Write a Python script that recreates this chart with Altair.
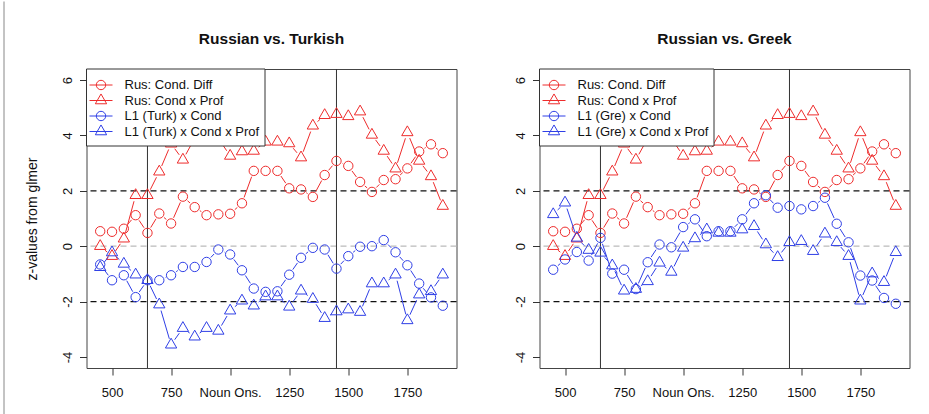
import math
import altair as alt
import pandas as pd

# ---------------- data ----------------
times = [450, 500, 550, 600, 650, 700, 750, 800, 850, 900, 950, 1000, 1050, 1100, 1150,
         1200, 1250, 1300, 1350, 1400, 1450, 1500, 1550, 1600, 1650, 1700, 1750, 1800, 1850, 1900]

rus_cond_diff = [0.54, 0.52, 0.63, 1.12, 0.48, 1.18, 0.82, 1.79, 1.41, 1.12,
                 1.15, 1.17, 1.55, 2.72, 2.72, 2.72, 2.09, 2.05, 1.78, 2.57,
                 3.08, 2.90, 2.32, 1.96, 2.39, 2.42, 2.81, 3.42, 3.68, 3.36]
rus_cond_prof = [0.00, -0.36, 0.27, 1.84, 1.84, 2.69, 3.70, 3.12, 3.90, 4.00,
                 3.90, 3.26, 3.42, 3.44, 3.77, 3.77, 3.71, 3.20, 4.35, 4.73,
                 4.77, 4.69, 4.86, 4.02, 3.44, 2.80, 4.11, 3.08, 2.52, 1.45]
turk_cond = [-0.66, -1.23, -1.05, -1.84, -1.23, -1.23, -1.05, -0.75, -0.75, -0.57,
             -0.12, -0.30, -0.87, -1.53, -1.65, -1.63, -1.03, -0.42, -0.06, -0.12,
             -0.81, -0.36, -0.02, 0.00, 0.22, -0.22, -0.69, -1.35, -1.85, -2.15]
turk_cond_prof = [-0.76, -0.23, -0.64, -1.03, -1.23, -2.11, -3.56, -2.96, -3.27, -2.96,
                  -3.06, -2.33, -1.97, -2.15, -1.82, -1.82, -2.19, -1.61, -1.91, -2.60,
                  -2.36, -2.29, -2.38, -1.35, -1.35, -1.03, -2.68, -1.75, -1.63, -1.03]
gre_cond = [-0.85, -0.48, -0.21, -0.52, 0.30, -0.99, -0.85, -1.55, -0.58, 0.06,
            -0.04, 0.69, 0.97, 0.36, 0.54, 0.54, 0.97, 1.55, 1.84, 1.39,
            1.45, 1.33, 1.45, 1.75, 0.81, 0.14, -1.06, -1.24, -1.87, -2.08]
gre_cond_prof = [1.15, 1.57, 0.30, -0.14, -0.24, -0.70, -1.61, -1.55, -1.27, -0.60,
                 -0.93, -0.06, 0.28, 0.60, 0.48, 0.48, 0.60, 0.72, 0.06, -0.40,
                 0.14, 0.18, -0.18, 0.45, 0.14, -0.36, -1.97, -0.99, -1.30, -0.22]

panel_titles = ["Russian vs. Turkish", "Russian vs. Greek"]
legend_turk = ["Rus: Cond. Diff", "Rus: Cond x Prof", "L1 (Turk) x Cond", "L1 (Turk) x Cond x Prof"]
legend_gre = ["Rus: Cond. Diff", "Rus: Cond x Prof", "L1 (Gre) x Cond", "L1 (Gre) x Cond x Prof"]
x_tick_values = [500, 750, 1000, 1250, 1500, 1750]
x_tick_labels = ["500", "750", "Noun Ons.", "1250", "1500", "1750"]
y_tick_values = [-4, -2, 0, 2, 4, 6]
y_tick_labels = ["-4", "-2", "0", "2", "4", "6"]
sig_levels = [-2, 2]
zero_level = [0]
region_marks = [650, 1450]
y_title = "z-values from glmer"

# ---------------- styling ----------------
RED = "#EE2C2C"
BLUE = "#2F3FE6"
FONT = "Liberation Sans"
X_DOMAIN = [392, 1958]
Y_DOMAIN = [-4.4, 6.4]
W = 370
H = 299
GAP = 6.2
CIRCLE = "circle"
TRIANGLE = "M0,-1.1547L1,0.5774L-1,0.5774Z"
C_SIZE = 88
T_SIZE = 128


def label_expr(values, labels):
    expr = "''"
    for v, l in reversed(list(zip(values, labels))):
        expr = f"datum.value == {v} ? '{l}' : ({expr})"
    return expr


def gapped_segments(xs, ys):
    """Segments between consecutive points, shortened near each point (R type='b')."""
    sx = W / (X_DOMAIN[1] - X_DOMAIN[0])
    sy = H / (Y_DOMAIN[1] - Y_DOMAIN[0])
    rows = []
    for i in range(len(xs) - 1):
        dx = (xs[i + 1] - xs[i]) * sx
        dy = (ys[i + 1] - ys[i]) * sy
        L = math.hypot(dx, dy)
        if L <= 2 * GAP:
            continue
        f = GAP / L
        rows.append({
            "x": xs[i] + f * (xs[i + 1] - xs[i]),
            "y": ys[i] + f * (ys[i + 1] - ys[i]),
            "x2": xs[i + 1] - f * (xs[i + 1] - xs[i]),
            "y2": ys[i + 1] - f * (ys[i + 1] - ys[i]),
        })
    return pd.DataFrame(rows, columns=["x", "y", "x2", "y2"])


def make_panel(title, series, legend_labels, legend_width, show_ytitle, frame):
    xs = alt.Scale(domain=X_DOMAIN, nice=False, zero=False)
    ys = alt.Scale(domain=Y_DOMAIN, nice=False, zero=False)
    x_axis = alt.Axis(values=x_tick_values, labelExpr=label_expr(x_tick_values, x_tick_labels),
                      title=None, grid=False, domain=False, ticks=True, tickSize=7,
                      tickColor="#333", tickWidth=1, labelFont=FONT, labelFontSize=13,
                      labelColor="#111", labelBaseline="alphabetic", labelAlign="center",
                      labelPadding=21, labelFlush=False, labelOverlap=False)
    y_kwargs = dict(values=y_tick_values, labelExpr=label_expr(y_tick_values, y_tick_labels),
                    grid=False, domain=False, ticks=True, tickSize=7, tickColor="#333",
                    tickWidth=1, labelFont=FONT, labelFontSize=13, labelColor="#111",
                    labelAngle=270, labelAlign="center", labelBaseline="alphabetic",
                    labelPadding=7.8, labelFlush=False, labelOverlap=False)
    if show_ytitle:
        y_axis = alt.Axis(title=y_title, titleFont=FONT, titleFontSize=14,
                          titleFontWeight="normal", titleColor="#111", titleAngle=270,
                          titleX=-50, titleY=H / 2, titleAlign="center",
                          titleBaseline="alphabetic", **y_kwargs)
    else:
        y_axis = alt.Axis(title=None, **y_kwargs)

    def X(f):
        return alt.X(f, type="quantitative", scale=xs, axis=x_axis)

    def Y(f):
        return alt.Y(f, type="quantitative", scale=ys, axis=y_axis)

    layers = []
    # reference lines
    layers.append(alt.Chart(pd.DataFrame({"v": zero_level})).mark_rule(
        color="#BBBBBB", strokeWidth=1.2, strokeDash=[6, 4]).encode(y=Y("v")))
    layers.append(alt.Chart(pd.DataFrame({"v": sig_levels})).mark_rule(
        color="#111111", strokeWidth=1.2, strokeDash=[6, 4]).encode(y=Y("v")))
    layers.append(alt.Chart(pd.DataFrame({"t": region_marks})).mark_rule(
        color="#333333", strokeWidth=1).encode(x=X("t")))

    # series
    for vals, color, shape, size in series:
        seg = gapped_segments(times, vals)
        layers.append(alt.Chart(seg).mark_rule(color=color, strokeWidth=1).encode(
            x=X("x"), x2="x2", y=Y("y"), y2="y2"))
        pts = pd.DataFrame({"t": times, "z": vals})
        layers.append(alt.Chart(pts).mark_point(
            shape=shape, size=size, filled=False, color=color, strokeWidth=1, opacity=1
        ).encode(x=X("t"), y=Y("z")))

    one = pd.DataFrame({"k": [0]})
    # legend box
    layers.append(alt.Chart(one).mark_rect(fill="white", stroke="#333", strokeWidth=1).encode(
        x=alt.value(0), x2=alt.value(legend_width), y=alt.value(0), y2=alt.value(77)))
    row_y = [16, 31.5, 47, 62.5]
    for (vals, color, shape, size), label, ry in zip(series, legend_labels, row_y):
        layers.append(alt.Chart(one).mark_rule(color=color, strokeWidth=1).encode(
            x=alt.value(3), x2=alt.value(26), y=alt.value(ry)))
        layers.append(alt.Chart(one).mark_point(
            shape=shape, size=size, filled=False, color=color, strokeWidth=1, opacity=1
        ).encode(x=alt.value(14.5), y=alt.value(ry)))
        layers.append(alt.Chart(one).mark_text(
            text=label, font=FONT, fontSize=13, color="#111", align="left", baseline="middle"
        ).encode(x=alt.value(38), y=alt.value(ry)))

    # panel title
    layers.append(alt.Chart(one).mark_text(
        text=title, font=FONT, fontSize=15.5, fontWeight="bold", color="#111",
        align="center", baseline="alphabetic"
    ).encode(x=alt.value(W / 2), y=alt.value(-25.5)))

    if frame:
        layers.append(alt.Chart(one).mark_rule(color="#888888", strokeWidth=1).encode(
            x=alt.value(-82.5), y=alt.value(-67.5), y2=alt.value(346)))

    return alt.layer(*layers).properties(width=W, height=H)


series_turk = [
    (rus_cond_diff, RED, CIRCLE, C_SIZE),
    (rus_cond_prof, RED, TRIANGLE, T_SIZE),
    (turk_cond, BLUE, CIRCLE, C_SIZE),
    (turk_cond_prof, BLUE, TRIANGLE, T_SIZE),
]
series_gre = [
    (rus_cond_diff, RED, CIRCLE, C_SIZE),
    (rus_cond_prof, RED, TRIANGLE, T_SIZE),
    (gre_cond, BLUE, CIRCLE, C_SIZE),
    (gre_cond_prof, BLUE, TRIANGLE, T_SIZE),
]

left = make_panel(panel_titles[0], series_turk, legend_turk, 178.5, True, True)
right = make_panel(panel_titles[1], series_gre, legend_gre, 174.5, False, False)

chart = alt.hconcat(left, right, spacing=83, bounds="flush").properties(
    padding={"left": 2.5, "top": 0, "right": 5, "bottom": 0}
).configure_view(stroke="#444444", strokeWidth=1)

chart.save("out.html", embed_options={"renderer": "svg", "actions": False})
